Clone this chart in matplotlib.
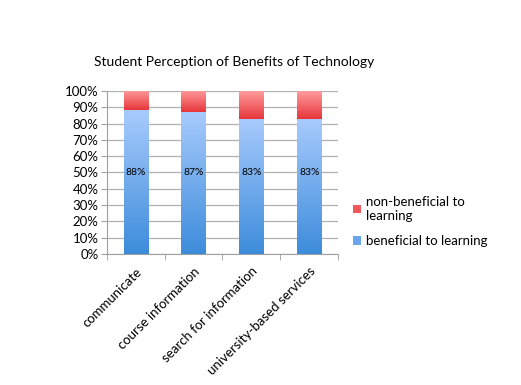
import numpy as np
import matplotlib.pyplot as plt
from matplotlib.colors import LinearSegmentedColormap
from matplotlib.patches import Patch

plt.rcParams['font.family'] = ['Lato', 'DejaVu Sans']

categories = ['communicate', 'course information', 'search for information', 'university-based services']
beneficial = [88, 87, 83, 83]
non_beneficial = [12, 13, 17, 17]

fig = plt.figure(figsize=(5.21, 3.85), dpi=100)
ax = fig.add_axes([0.205, 0.340, 0.444, 0.424])

x = np.arange(len(categories))
width = 0.42

blue_cmap = LinearSegmentedColormap.from_list('b', ['#3d8cdb', '#a8cbfd'])
red_cmap = LinearSegmentedColormap.from_list('r', ['#e6353a', '#ff9c9c'])

def grad_bars(bars, cmap):
    # fill each bar with a vertical gradient, clipped to the bar
    grad = np.linspace(0, 1, 256).reshape(-1, 1)
    for b in bars:
        x0, y0 = b.get_x(), b.get_y()
        w, h = b.get_width(), b.get_height()
        im = ax.imshow(grad, cmap=cmap, origin='lower', aspect='auto',
                       extent=[x0, x0 + w, y0, y0 + h], zorder=3)
        im.set_clip_path(b)
        b.set_facecolor('none')

b1 = ax.bar(x, beneficial, width, zorder=3, linewidth=0)
b2 = ax.bar(x, non_beneficial, width, bottom=beneficial, zorder=3, linewidth=0)
grad_bars(b1, blue_cmap)
grad_bars(b2, red_cmap)

for xi, v in zip(x, beneficial):
    ax.text(xi, 50, f'{v}%', ha='center', va='center', fontsize=7.5, zorder=5)

ax.set_xlim(-0.5, len(categories) - 0.5)
ax.set_ylim(0, 100)
ax.set_yticks(range(0, 101, 10))
ax.set_yticklabels([f'{v}%' for v in range(0, 101, 10)], fontsize=9.5)
ax.yaxis.grid(True, color='#b0b0b0', linewidth=0.9)
ax.set_axisbelow(True)
ax.tick_params(axis='y', length=4, color='#a0a0a0', pad=2)

ax.set_xticks(x)
ax.set_xticklabels(categories, rotation=45, ha='right', rotation_mode='anchor', fontsize=9.5)
ax.tick_params(axis='x', length=0, pad=8)
ax.set_xticks(np.arange(-0.5, len(categories)), minor=True)
ax.tick_params(axis='x', which='minor', length=4, color='#a0a0a0')

for s in ['top', 'right']:
    ax.spines[s].set_visible(False)
for s in ['left', 'bottom']:
    ax.spines[s].set_color('#a0a0a0')

handles = [Patch(facecolor='#f0585b', label='non-beneficial to\nlearning'),
           Patch(facecolor='#6aa6ec', label='beneficial to learning')]
fig.legend(handles=handles, loc='center left', bbox_to_anchor=(0.655, 0.425),
           frameon=False, fontsize=9.5, handlelength=0.6, handleheight=0.6,
           handletextpad=0.4, labelspacing=1.0)

fig.text(0.45, 0.838, 'Student Perception of Benefits of Technology', ha='center', va='center', fontsize=10)

fig.savefig('out.png', dpi=100)
